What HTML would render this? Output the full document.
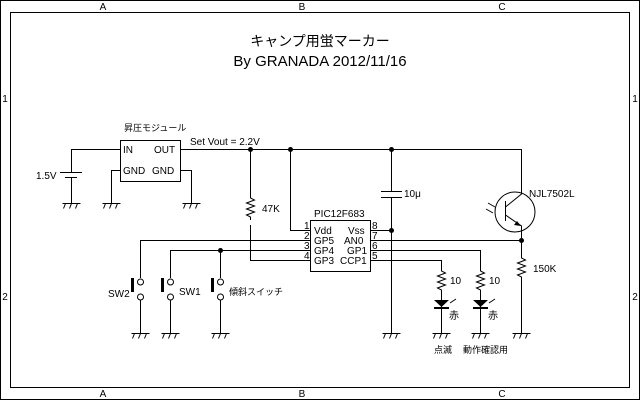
<!DOCTYPE html><html><head><style>body{margin:0;background:#fff}svg{display:block}text{font-family:"Liberation Sans","Noto Sans CJK JP",sans-serif;font-size:10px;fill:#000}</style></head><body>
<svg width="640" height="400" viewBox="0 0 640 400" xmlns="http://www.w3.org/2000/svg">
<defs>
<g id="gnd"><line x1="-9" y1="0" x2="9" y2="0" stroke="#000"/><path d="M-6 0l-2 5M0 0l-2 5M6 0l-2 5" stroke="#000"/></g>
<g id="res"><path d="M0 0l0 3l4 2l-8 3l8 3l-8 3l8 3l-8 3l4 2l0 3" fill="none" stroke="#000"/></g>
</defs>
<rect x="0.5" y="0.5" width="639" height="399" fill="none" stroke="#000"/>
<rect x="10.5" y="12.5" width="619" height="375" fill="none" stroke="#000"/>
<g style="font-size:9px" text-anchor="middle"><text x="103" y="10">A</text><text x="302" y="10">B</text><text x="502" y="10">C</text><text x="103" y="397">A</text><text x="302" y="397">B</text><text x="502" y="397">C</text><text x="5" y="102">1</text><text x="5" y="300">2</text><text x="635" y="102">1</text><text x="635" y="300">2</text></g>
<text x="320" y="46" text-anchor="middle" style="font-size:14px">キャンプ用蛍マーカー</text>
<text x="320" y="66" text-anchor="middle" style="font-size:15px">By GRANADA 2012/11/16</text>
<g stroke="#000" fill="none">
<rect x="120.5" y="140.5" width="60" height="41"/>
<path d="M120 149.5H71.5V172M71.5 178V203M60 172.5h22M65 177.5h12"/>
<path d="M120 170.5H111.5V203M180 170.5H191.5V203"/>
<path d="M180 149.5H521.5V193"/>
<path d="M250.5 149V195M250.5 225V260.5H310"/>
<path d="M290.5 149V230.5H310"/>
<path d="M391.5 149V191M391.5 198V333M381 191.5h21M381 197.5h21"/>
<rect x="310.5" y="220.5" width="60" height="51"/>
<path d="M140.5 240.5H310M170.5 250.5H310M220.5 250.5V278"/>
<path d="M370 230.5H391M370 240.5H521M370 250.5H480.5V270M370 260.5H441.5V270"/>
<path d="M140.5 240V278M140.5 300V333M170.5 250V278M170.5 300V333M220.5 250V278M220.5 300V333"/>
<path d="M441.5 290V333M480.5 290V333M521.5 233V258M521.5 280V333"/>
<circle cx="515" cy="212" r="20" fill="#fff"/>
<path d="M505.5 201V221M505.5 207L521.5 194V190M505.5 215L521.5 226V233"/>
<path d="M488 203l7 4M486 209l7 4"/>
</g>
<path d="M521 226l-7 -1l3 -4z" fill="#000"/>
<use href="#res" x="250.5" y="195"/><use href="#res" x="521.5" y="255"/><use href="#res" x="441.5" y="268"/><use href="#res" x="480.5" y="268"/>
<g fill="#000"><circle cx="250.5" cy="149.5" r="2.5"/><circle cx="290.5" cy="149.5" r="2.5"/><circle cx="391.5" cy="149.5" r="2.5"/><circle cx="391.5" cy="230.5" r="2.5"/><circle cx="220.5" cy="250.5" r="2.5"/><circle cx="521.5" cy="240.5" r="2.5"/>
<rect x="131" y="278" width="3" height="14"/><rect x="161" y="278" width="3" height="14"/><rect x="211" y="278" width="3" height="14"/>
<path d="M434 300h15l-7.5 7z"/><path d="M473 300h15l-7.5 7z"/><rect x="434" y="307" width="15" height="2"/><rect x="473" y="307" width="15" height="2"/></g>
<g fill="#fff" stroke="#000"><circle cx="140.5" cy="282" r="3"/><circle cx="140.5" cy="297" r="3"/><circle cx="170.5" cy="282" r="3"/><circle cx="170.5" cy="297" r="3"/><circle cx="220.5" cy="282" r="3"/><circle cx="220.5" cy="297" r="3"/></g>
<path d="M450 303l6-4M489 303l6-4" stroke="#000"/>
<g><use href="#gnd" x="71.5" y="203.5"/><use href="#gnd" x="111.5" y="203.5"/><use href="#gnd" x="191.5" y="203.5"/><use href="#gnd" x="140.5" y="333.5"/><use href="#gnd" x="170.5" y="333.5"/><use href="#gnd" x="220.5" y="333.5"/><use href="#gnd" x="391.5" y="333.5"/><use href="#gnd" x="441.5" y="333.5"/><use href="#gnd" x="480.5" y="333.5"/><use href="#gnd" x="521.5" y="333.5"/></g>
<text x="124" y="131" style="font-size:9px">昇圧モジュール</text>
<text x="123" y="153">IN</text><text x="154" y="153">OUT</text><text x="123" y="174">GND</text><text x="152" y="174">GND</text>
<text x="36" y="179">1.5V</text>
<text x="190" y="145">Set Vout = 2.2V</text>
<text x="262" y="212">47K</text>
<text x="404" y="197">10μ</text>
<text x="314" y="217">PIC12F683</text>
<text x="314" y="234">Vdd</text><text x="348" y="234">Vss</text>
<text x="314" y="244">GP5</text><text x="344" y="244">AN0</text>
<text x="314" y="254">GP4</text><text x="347" y="254">GP1</text>
<text x="314" y="264">GP3</text><text x="340" y="264">CCP1</text>
<g style="font-size:9px"><text x="304" y="229">1</text><text x="304" y="239">2</text><text x="304" y="249">3</text><text x="304" y="259">4</text><text x="372" y="229">8</text><text x="372" y="239">7</text><text x="372" y="249">6</text><text x="372" y="259">5</text></g>
<text x="529" y="197">NJL7502L</text>
<text x="533" y="272">150K</text>
<text x="450" y="284">10</text><text x="489" y="284">10</text>
<text x="449" y="319">赤</text><text x="488" y="319">赤</text>
<text x="434" y="353" style="font-size:9px">点滅</text><text x="463" y="353" style="font-size:9px">動作確認用</text>
<text x="108" y="297">SW2</text><text x="179" y="295">SW1</text><text x="229" y="295" style="font-size:9px">傾斜スイッチ</text>
</svg></body></html>
